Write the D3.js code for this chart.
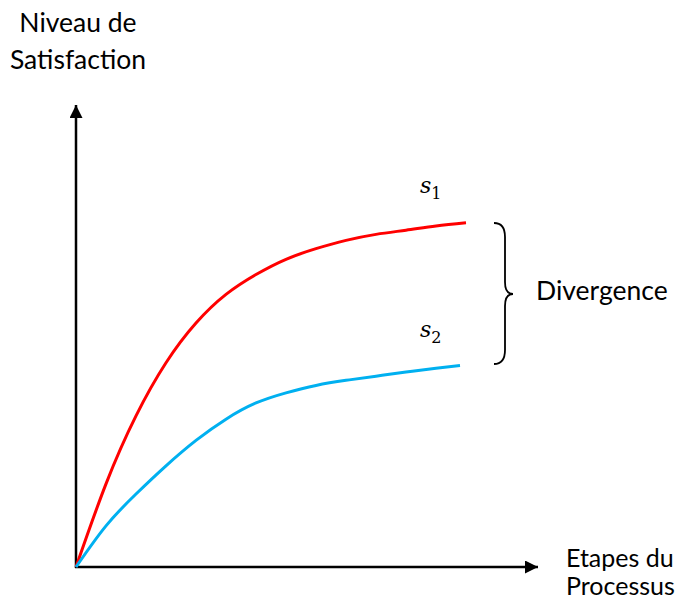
<!DOCTYPE html>
<html>
<head>
<meta charset="utf-8">
<script src="https://cdn.jsdelivr.net/npm/d3@7"></script>
<style>
  body { margin: 0; background: #fff; }
  text { font-family: Lato, "Open Sans", sans-serif; fill: #000; }
</style>
</head>
<body>
<div id="chart"></div>
<script>
// Chart size
const width = 684;
const height = 607;

// Curve data (process steps, satisfaction 0-100)
const stepsS1 = [0, 1, 2, 3, 4, 5, 6, 7, 8, 9, 10, 11, 12, 13];
const valuesS1 = [0, 18.0, 32.7, 44.2, 52.8, 59.0, 63.3, 66.6, 68.9, 70.7, 72.0, 72.9, 73.8, 74.5];
const stepsS2 = [0, 1, 2, 3, 4, 5, 6, 7, 8, 9, 10, 11, 12, 12.8];
const valuesS2 = [0, 8.9, 15.8, 21.9, 27.4, 32.0, 35.5, 37.7, 39.3, 40.4, 41.3, 42.2, 43.0, 43.6];

const yLabel = ["Niveau de", "Satisfaction"];
const xLabel = ["Etapes du", "Processus"];
const seriesNames = ["1", "2"];

const svg = d3.select("#chart")
              .append("svg")
              .attr("width", width)
              .attr("height", height);

// Scales: origin at (76, 567)
const x = d3.scaleLinear().domain([0, 15.4]).range([76, 538]);
const y = d3.scaleLinear().domain([0, 100]).range([567, 105]);

// Arrow marker for the axes
svg.append("defs").append("marker")
   .attr("id", "arrow")
   .attr("viewBox", "0 0 10 10")
   .attr("refX", 10)
   .attr("refY", 5)
   .attr("markerUnits", "userSpaceOnUse")
   .attr("markerWidth", 16)
   .attr("markerHeight", 13)
   .attr("orient", "auto")
   .append("path")
   .attr("d", "M0,0 L10,5 L0,10 Z")
   .attr("fill", "#000");

// Axes
svg.append("line")
   .attr("x1", x(0)).attr("y1", y(0) + 1)
   .attr("x2", x(0)).attr("y2", y(100))
   .attr("stroke", "#000").attr("stroke-width", 2.5)
   .attr("marker-end", "url(#arrow)");

svg.append("line")
   .attr("x1", x(0) - 1).attr("y1", y(0))
   .attr("x2", x(15.4)).attr("y2", y(0))
   .attr("stroke", "#000").attr("stroke-width", 2.5)
   .attr("marker-end", "url(#arrow)");

// Curves
const line = d3.line()
               .x(d => x(d[0]))
               .y(d => y(d[1]))
               .curve(d3.curveNatural);

const series = [
    { pts: d3.zip(stepsS1, valuesS1), color: "#ff0000" },
    { pts: d3.zip(stepsS2, valuesS2), color: "#00b0f0" }
];

svg.append("g")
   .selectAll("path")
   .data(series)
   .enter().append("path")
   .attr("d", d => line(d.pts))
   .attr("fill", "none")
   .attr("stroke", d => d.color)
   .attr("stroke-width", 3)
   .attr("stroke-linecap", "butt");

// Axis labels
svg.append("text")
   .attr("font-size", 26.5)
   .selectAll("tspan")
   .data(yLabel)
   .enter().append("tspan")
   .attr("x", 78)
   .attr("y", (d, i) => 32 + i * 37)
   .attr("text-anchor", "middle")
   .text(d => d);

svg.append("text")
   .attr("font-size", 25)
   .selectAll("tspan")
   .data(xLabel)
   .enter().append("tspan")
   .attr("x", 566)
   .attr("y", (d, i) => 567 + i * 28)
   .text(d => d);

// Series labels s1, s2
const labelY = [193, 337];
seriesNames.forEach((n, i) => {
    const t = svg.append("text")
                 .attr("x", 420)
                 .attr("y", labelY[i])
                 .style("font-family", "'DejaVu Serif', serif");
    t.append("tspan").attr("font-style", "italic").attr("font-size", 22).text("s");
    t.append("tspan").attr("font-size", 16).attr("dy", 6).text(n);
});

// Brace between the curve ends
const bx = 494, bTop = 223, bBot = 364, bMid = 294, bTip = 513, bw = 11;
svg.append("path")
   .attr("d", `M${bx},${bTop} Q${bx + bw},${bTop} ${bx + bw},${bTop + 14}` +
              ` L${bx + bw},${bMid - 12} Q${bx + bw},${bMid} ${bTip},${bMid}` +
              ` Q${bx + bw},${bMid} ${bx + bw},${bMid + 12}` +
              ` L${bx + bw},${bBot - 14} Q${bx + bw},${bBot} ${bx},${bBot}`)
   .attr("fill", "none")
   .attr("stroke", "#000")
   .attr("stroke-width", 1.8);

svg.append("text")
   .attr("x", 536)
   .attr("y", 300)
   .attr("font-size", 26.5)
   .text("Divergence");
</script>
</body>
</html>
